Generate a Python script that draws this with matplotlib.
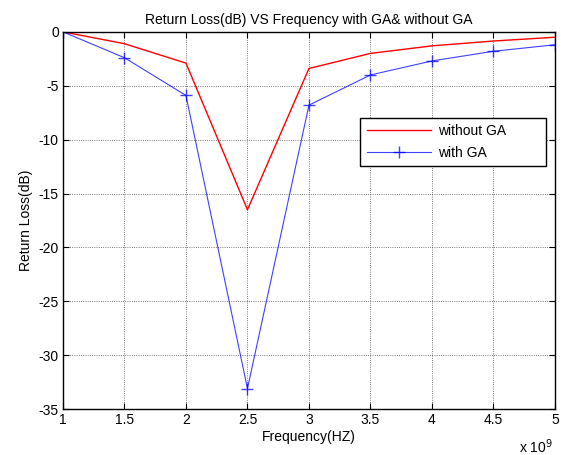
import matplotlib
matplotlib.use("Agg")
import matplotlib.pyplot as plt
import numpy as np

freq = [1e9, 1.5e9, 2e9, 2.5e9, 3e9, 3.5e9, 4e9, 4.5e9, 5e9]
without_ga = [0, -1.1, -2.9, -16.5, -3.4, -2.0, -1.3, -0.85, -0.5]
with_ga = [0, -2.4, -5.9, -33.1, -6.8, -4.0, -2.7, -1.8, -1.2]
xtick_labels = ["1", "1.5", "2", "2.5", "3", "3.5", "4", "4.5", "5"]
yticks = [0, -5, -10, -15, -20, -25, -30, -35]

plt.rcParams['font.family'] = ['Liberation Sans', 'DejaVu Sans']
fig = plt.figure(figsize=(5.62, 4.55), dpi=100)
ax = fig.add_axes([0.112, 0.101, 0.8755, 0.829])
ax.plot(freq, without_ga, color='#ff0000', lw=1.0, label='without GA         ')
ax.plot(freq, with_ga, color='#0000ff', lw=0.8, alpha=0.75, marker='+', ms=9, mew=1.0,
        markeredgecolor='#0000ff', label='with GA')
ax.set_xlim(1e9, 5e9)
ax.set_ylim(-35, 0)
ax.set_xticks(freq)
ax.set_xticklabels(xtick_labels)
ax.set_yticks(yticks)
ax.set_yticklabels([str(v) for v in yticks])
ax.tick_params(direction='in', top=True, right=True, labelsize=10, length=4, pad=3)
ax.grid(True, color='black', linestyle=':', linewidth=0.6, alpha=0.7)
for s in ax.spines.values():
    s.set_linewidth(1.0)
ax.set_xlabel('Frequency(HZ)', fontsize=10, labelpad=2)
ax.set_ylabel('Return Loss(dB)', fontsize=10, labelpad=4)
ax.set_title('Return Loss(dB) VS Frequency with GA& without GA', fontsize=10, pad=6)
ax.text(0.995, -0.075, r'x 10$^{9}$', transform=ax.transAxes, ha='right', va='top', fontsize=10)
leg = ax.legend(loc='upper right', bbox_to_anchor=(0.996, 0.79), fontsize=10,
                fancybox=False, edgecolor='black', framealpha=1, handlelength=4.6,
                borderpad=0.45, labelspacing=0.55, handletextpad=0.5)
leg.get_frame().set_linewidth(1.0)
fig.savefig('out.png', dpi=100)
